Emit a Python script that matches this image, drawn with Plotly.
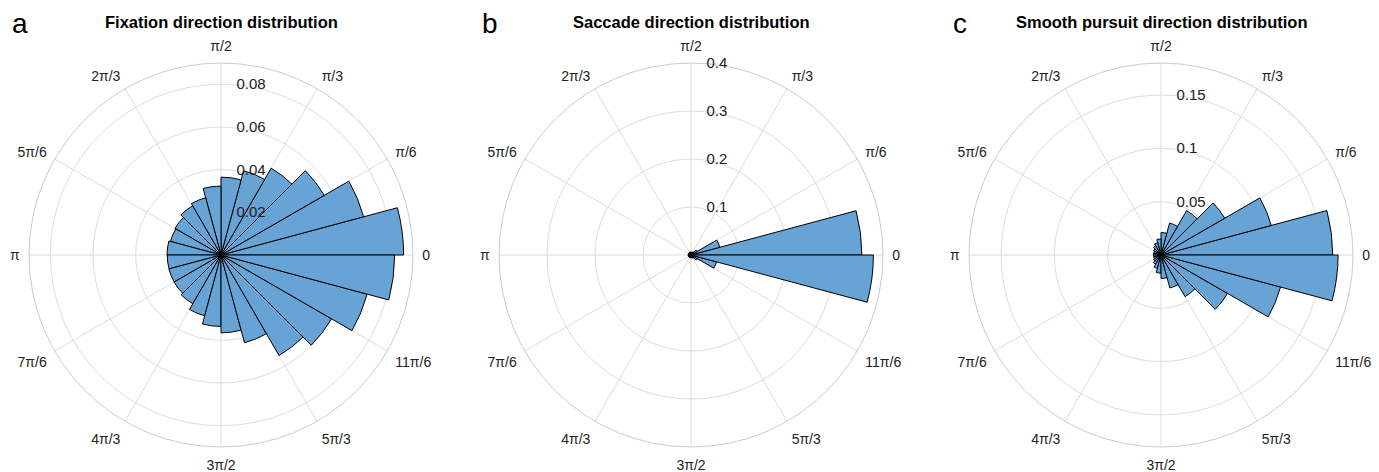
import plotly.graph_objects as go

# Bin centers (degrees), 24 bins of 15 degrees
bin_centers = [7.5 + 15 * k for k in range(24)]
bin_width = 15

fixation = [0.0856, 0.0692, 0.0559, 0.0470, 0.0409, 0.0365, 0.0323, 0.0278,
            0.0266, 0.0249, 0.0245, 0.0253, 0.0252, 0.0253, 0.0254, 0.0264,
            0.0295, 0.0335, 0.0365, 0.0426, 0.0544, 0.0598, 0.0709, 0.0814]
saccade = [0.356, 0.062, 0.015, 0.008, 0.006, 0.006, 0.006, 0.006,
           0.006, 0.006, 0.006, 0.006, 0.006, 0.006, 0.006, 0.006,
           0.006, 0.006, 0.006, 0.006, 0.008, 0.015, 0.055, 0.380]
pursuit = [0.161, 0.107, 0.069, 0.048, 0.031, 0.021, 0.015, 0.012,
           0.010, 0.008, 0.007, 0.007, 0.007, 0.007, 0.008, 0.010,
           0.013, 0.017, 0.022, 0.032, 0.045, 0.072, 0.116, 0.166]

titles = ["Fixation direction distribution", "Saccade direction distribution",
          "Smooth pursuit direction distribution"]
letters = ["a", "b", "c"]
r_ranges = [0.09, 0.4, 0.18]
r_ticks = [[0.02, 0.04, 0.06, 0.08], [0.1, 0.2, 0.3, 0.4], [0.05, 0.1, 0.15]]
r_ticktext = [["0.02", "0.04", "0.06", "0.08"], ["0.1", "0.2", "0.3", "0.4"],
              ["0.05", "0.1", "0.15"]]
ang_vals = [0, 30, 60, 90, 120, 150, 180, 210, 240, 270, 300, 330]
ang_text = ["0", "π/6", "π/3", "π/2", "2π/3", "5π/6", "π", "7π/6", "4π/3",
            "3π/2", "5π/3", "11π/6"]

W, H = 1379, 472
centers_x = [221, 691, 1161]
center_y = 255
R = 192

FONT = "Liberation Sans, Arial, Helvetica, sans-serif"
BAR = "#68a3d6"
GRID = "#dddddd"

fig = go.Figure()
series = [fixation, saccade, pursuit]
layout = dict(
    width=W, height=H, margin=dict(l=0, r=0, t=0, b=0),
    paper_bgcolor="white", plot_bgcolor="white", showlegend=False,
    font=dict(family=FONT, size=14, color="#222222"),
)
annotations = []
for i in range(3):
    key = "polar" if i == 0 else f"polar{i+1}"
    fig.add_trace(go.Barpolar(
        r=series[i], theta=bin_centers, width=[bin_width] * 24,
        marker=dict(color=BAR, line=dict(color="black", width=1)),
        subplot=key, hoverinfo="skip",
    ))
    cx = centers_x[i]
    layout[key] = dict(
        domain=dict(x=[(cx - R) / W, (cx + R) / W],
                    y=[(H - (center_y + R)) / H, (H - (center_y - R)) / H]),
        bgcolor="white",
        bargap=0,
        radialaxis=dict(range=[0, r_ranges[i]], tickvals=r_ticks[i],
                        ticktext=r_ticktext[i], angle=90, side="clockwise",
                        tickangle=90,
                        showline=False, ticks="outside", ticklen=12,
                        tickcolor="rgba(0,0,0,0)", gridcolor=GRID,
                        tickfont=dict(size=15, color="#222222"), layer="above traces"),
        angularaxis=dict(tickmode="array", tickvals=ang_vals, ticktext=ang_text,
                         direction="counterclockwise", rotation=0,
                         gridcolor=GRID, linecolor="#cccccc", showline=True,
                         ticks="outside", ticklen=6, tickcolor="rgba(0,0,0,0)",
                         tickfont=dict(size=14, color="#222222"),
                         layer="below traces"),
    )
    annotations.append(dict(text="<b>" + titles[i] + "</b>", x=cx / W, y=1 - 22 / H,
                            xref="paper", yref="paper", showarrow=False,
                            xanchor="center", yanchor="middle",
                            font=dict(size=16.5, color="black", family=FONT)))
    annotations.append(dict(text=letters[i], x=[20, 490, 960][i] / W, y=1 - 24 / H,
                            xref="paper", yref="paper", showarrow=False,
                            xanchor="center", yanchor="middle",
                            font=dict(size=28, color="black", family=FONT)))
layout["annotations"] = annotations
fig.update_layout(**layout)
fig.write_html("out.html")
